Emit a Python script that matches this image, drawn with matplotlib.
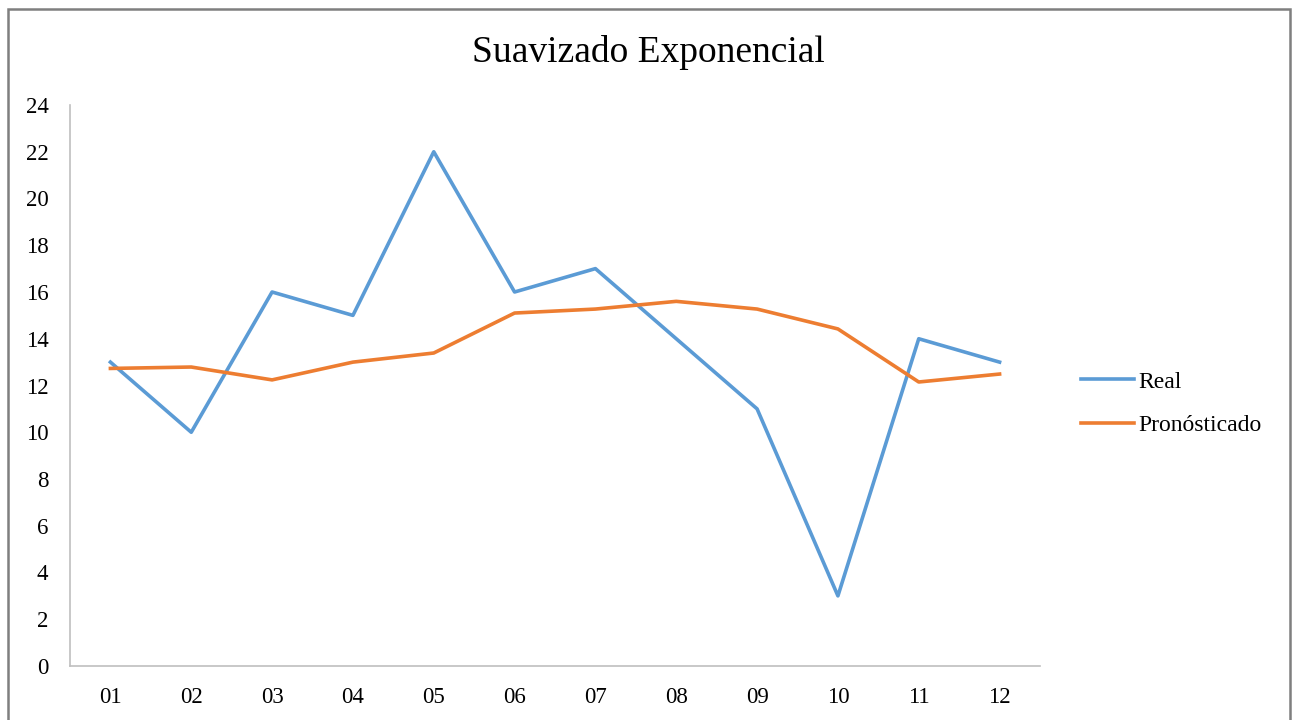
import matplotlib
matplotlib.use("Agg")
import matplotlib.pyplot as plt
from matplotlib.patches import Rectangle

categories = ["01", "02", "03", "04", "05", "06", "07", "08", "09", "10", "11", "12"]
real = [13, 10, 16, 15, 22, 16, 17, 14, 11, 3, 14, 13]
pronosticado = [12.73, 12.79, 12.24, 13.0, 13.39, 15.1, 15.27, 15.6, 15.27, 14.42, 12.15, 12.49]
y_ticks = list(range(0, 25, 2))

plt.rcParams['font.family'] = ['Liberation Serif', 'DejaVu Serif']

fig = plt.figure(figsize=(12.98, 7.2), dpi=100)
ax = fig.add_axes([70/1298, 1-666/720, (1040-70)/1298, (666-105)/720])

x = list(range(len(categories)))
ax.plot(x, real, color="#5B9BD5", lw=2.6, label="Real")
ax.plot(x, pronosticado, color="#ED7D31", lw=2.6, label="Pronósticado")

ax.set_xlim(-0.5, len(categories) - 0.5)
ax.set_ylim(0, 24)
ax.set_yticks(y_ticks)
ax.set_xticks(x)
ax.set_xticklabels(categories)
ax.tick_params(axis='both', length=0, labelsize=16.5, colors="#000000")
ax.tick_params(axis='y', pad=15.5)
ax.tick_params(axis='x', pad=15)
for s in ["top", "right"]:
    ax.spines[s].set_visible(False)
for s in ["left", "bottom"]:
    ax.spines[s].set_color("#BFBFBF")
    ax.spines[s].set_linewidth(1.2)

fig.text(648/1298, 1-52/720, "Suavizado Exponencial", ha="center", va="center", fontsize=27)

leg = ax.legend(loc="center left", bbox_to_anchor=(1.02, 0.468), frameon=False,
                fontsize=17, handlelength=2.25, handletextpad=0.2, labelspacing=0.92)

fig.patches.append(Rectangle((8/1298, -0.05), (1290-8)/1298, 1.05 - 9/720,
                             transform=fig.transFigure, fill=False,
                             edgecolor="#7F7F7F", linewidth=1.8))

fig.savefig("out.png", dpi=100, facecolor="white")
